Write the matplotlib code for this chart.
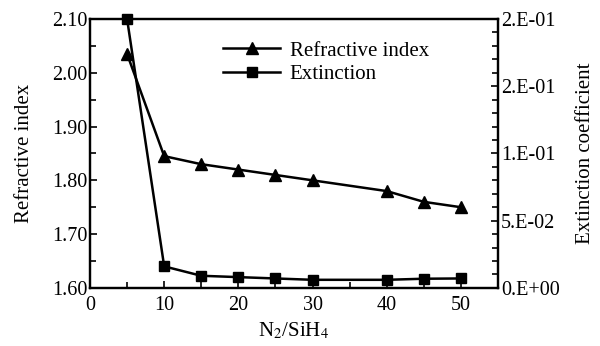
import matplotlib
matplotlib.use("Agg")
import matplotlib.pyplot as plt
from matplotlib.ticker import MultipleLocator

plt.rcParams['font.family'] = ['Liberation Serif', 'DejaVu Serif']
plt.rcParams['mathtext.fontset'] = 'stix'

# Data
ratio_n = [5, 10, 15, 20, 25, 30, 40, 45, 50]
refr_index = [2.035, 1.845, 1.83, 1.82, 1.81, 1.80, 1.78, 1.76, 1.75]

ratio_k = [5, 10, 15, 20, 25, 30, 40, 45, 50]
extinction = [0.200, 0.016, 0.009, 0.008, 0.007, 0.006, 0.006, 0.0068, 0.007]

left_ticks = [1.60, 1.70, 1.80, 1.90, 2.00, 2.10]
right_ticks = [0.0, 0.05, 0.10, 0.15, 0.20]
right_labels = ["0.E+00", "5.E-02", "1.E-01", "2.E-01", "2.E-01"]

FS = 15

fig = plt.figure(figsize=(6.0, 3.46), dpi=100)
ax = fig.add_axes([0.150, 0.168, 0.680, 0.777])
ax2 = ax.twinx()

l1, = ax.plot(ratio_n, refr_index, color='black', lw=1.8, marker='^',
              markersize=8, label='Refractive index', clip_on=False)
l2, = ax2.plot(ratio_k, extinction, color='black', lw=1.8, marker='s',
               markersize=7, label='Extinction', clip_on=False)

ax.set_xlim(0, 55)
ax.set_ylim(1.60, 2.10)
ax2.set_ylim(0, 0.20)

ax.set_xticks([0, 10, 20, 30, 40, 50])
ax.xaxis.set_minor_locator(MultipleLocator(5))
ax.set_yticks(left_ticks)
ax.set_yticklabels([f"{v:.2f}" for v in left_ticks])
ax.yaxis.set_minor_locator(MultipleLocator(0.05))
ax2.set_yticks(right_ticks)
ax2.set_yticklabels(right_labels)
ax2.yaxis.set_minor_locator(MultipleLocator(0.01))

for a in (ax, ax2):
    a.tick_params(which='both', direction='in', width=1.2, labelsize=FS - 0.5, pad=2)
    a.tick_params(which='major', length=5)
    a.tick_params(which='minor', length=4)
    for s in a.spines.values():
        s.set_linewidth(1.6)
ax.tick_params(axis='x', top=False, pad=6)

ax.set_xlabel(r"N$_2$/SiH$_4$", fontsize=FS, labelpad=4)
ax.set_ylabel("Refractive index", fontsize=FS, labelpad=13)
ax2.set_ylabel("Extinction coefficient", fontsize=FS, labelpad=12)

ax.legend(handles=[l1, l2], loc='upper left', bbox_to_anchor=(0.326, 0.918),
          frameon=False, fontsize=FS, handlelength=2.75, handletextpad=0.45,
          labelspacing=0.2, borderaxespad=0, borderpad=0)

fig.savefig("out.png", dpi=100)
